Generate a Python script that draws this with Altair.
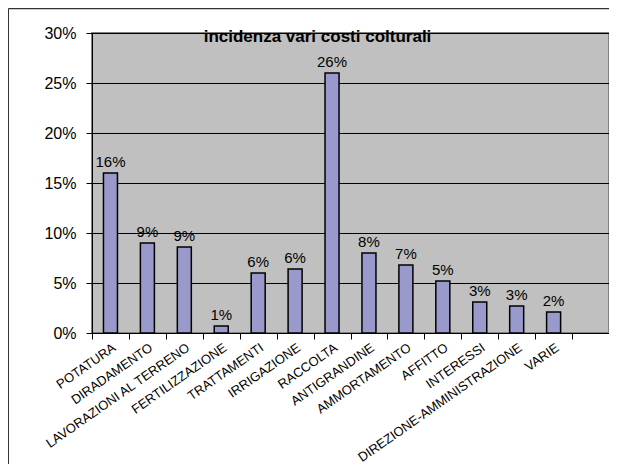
import altair as alt
import pandas as pd

categories = ["POTATURA", "DIRADAMENTO", "LAVORAZIONI AL TERRENO", "FERTILIZZAZIONE",
              "TRATTAMENTI", "IRRIGAZIONE", "RACCOLTA", "ANTIGRANDINE", "AMMORTAMENTO",
              "AFFITTO", "INTERESSI", "DIREZIONE-AMMINISTRAZIONE", "VARIE"]
values = [0.16, 0.09, 0.086, 0.007, 0.06, 0.064, 0.26, 0.08, 0.068, 0.052, 0.031, 0.027, 0.021]
y_ticks = [0, 0.05, 0.10, 0.15, 0.20, 0.25, 0.30]
title_text = "incidenza vari costi colturali"

df = pd.DataFrame({"cat": categories, "value": values})
domain = categories + [" "]

FONT = "Liberation Sans"

x_enc = alt.X("cat:N", scale=alt.Scale(domain=domain, paddingInner=0, paddingOuter=0),
              sort=domain,
              axis=alt.Axis(title=None, labelAngle=-35, labelFontSize=13, labelColor="black",
                            labelAlign="right", labelBaseline="top", labelPadding=2,
                            labelOverlap=False, labelLimit=400, tickBand="extent",
                            tickSize=6, tickColor="black", domainColor="black",
                            grid=False, labelFont=FONT))
y_enc = alt.Y("value:Q", scale=alt.Scale(domain=[0, 0.3], nice=False),
              axis=alt.Axis(title=None, values=y_ticks, format=".0%", grid=True,
                            gridColor="black", gridWidth=1, tickColor="black", tickSize=6,
                            domainColor="black", labelFontSize=16, labelColor="black",
                            labelPadding=10, labelFont=FONT))

base = alt.Chart(df)
bars = base.mark_bar(size=14, fill="#9999CC", stroke="black", strokeWidth=1.5).encode(x=x_enc, y=y_enc)
labels = base.mark_text(baseline="alphabetic", dy=-6, fontSize=15, font=FONT, color="black").encode(
    x=alt.X("cat:N", sort=domain), y="value:Q", text=alt.Text("value:Q", format=".0%"))

title = alt.Chart(pd.DataFrame({"t": [title_text]})).mark_text(
    fontSize=17, fontWeight="bold", font=FONT, color="black", baseline="alphabetic").encode(
    text="t:N", x=alt.value(225.5), y=alt.value(9))

frame_v = alt.Chart(pd.DataFrame({"a": [0]})).mark_rule(color="#333333", strokeWidth=1).encode(
    x=alt.value(-83.5), y=alt.value(-24.5), y2=alt.value(440))
frame_h = alt.Chart(pd.DataFrame({"a": [0]})).mark_rule(color="#333333", strokeWidth=1.5).encode(
    x=alt.value(-83.5), x2=alt.value(530), y=alt.value(-24.5))

chart = alt.layer(bars, labels, title, frame_v, frame_h).properties(
    width=517, height=300,
    autosize=alt.AutoSizeParams(type="none"),
    padding={"left": 84, "top": 25, "right": 0, "bottom": 131},
    background="white",
).configure(font=FONT).configure_view(fill="#C0C0C0", stroke="#808080", strokeWidth=2)

chart.save("out.html", embed_options={"renderer": "svg", "actions": False})
